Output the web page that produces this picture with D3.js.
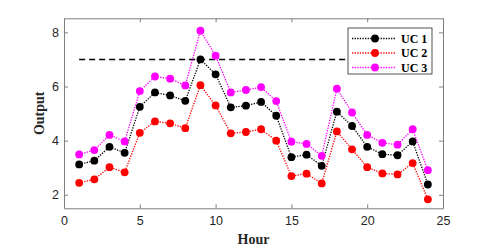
<!DOCTYPE html>
<meta charset="utf-8">
<style>
  body { margin: 0; background: #fff; }
  .tick text { font: 12.5px "Liberation Sans", Arial, sans-serif; fill: #262626; }
  .lab { font: bold 14px "Liberation Serif", "Times New Roman", serif; fill: #262626; }
  .leg text { font: bold 12px "Liberation Serif", "Times New Roman", serif; fill: #000; }
</style>
<script src="https://d3js.org/d3.v7.min.js"></script>
<svg id="chart" width="491" height="248"></svg>
<script>
  var hours = d3.range(1, 25);
  var uc1 = [3.12, 3.26, 3.77, 3.55, 5.25, 5.78, 5.67, 5.47, 7.0, 6.45, 5.23, 5.29,
             5.43, 4.92, 3.39, 3.48, 3.07, 5.07, 4.54, 3.77, 3.50, 3.46, 3.97, 2.38];
  var uc2 = [2.44, 2.57, 3.02, 2.83, 4.29, 4.71, 4.64, 4.46, 6.05, 5.30, 4.27, 4.32,
             4.42, 4.00, 2.69, 2.78, 2.42, 4.34, 3.68, 3.02, 2.79, 2.75, 3.17, 1.83];
  var uc3 = [3.49, 3.65, 4.21, 3.97, 5.83, 6.37, 6.29, 6.04, 8.06, 7.14, 5.78, 5.87,
             5.98, 5.46, 3.96, 3.88, 3.44, 5.92, 5.04, 4.21, 3.92, 3.85, 4.42, 2.91];
  var limit = 7;
  var seriesNames = ["UC 1", "UC 2", "UC 3"];
  var colors = ["#000000", "#ff0000", "#ff00ff"];
  var xTicks = [0, 5, 10, 15, 20, 25];
  var yTicks = [2, 4, 6, 8];

  var mLeft = 64, mRight = 443, mTop = 18.3, mBottom = 208.3;
  var svg = d3.select("#chart");

  var x = d3.scaleLinear().domain([0, 25]).range([mLeft, mRight]);
  var y = d3.scaleLinear().domain([1.5, 8.52]).range([mBottom, mTop]);

  // box + inward ticks on all four sides
  svg.append("g").attr("transform", "translate(0," + mBottom + ")")
    .call(d3.axisBottom(x).tickValues(xTicks).tickFormat(d3.format("d"))
      .tickSizeInner(-4).tickSizeOuter(0).tickPadding(8));
  svg.append("g").attr("transform", "translate(0," + mTop + ")")
    .call(d3.axisTop(x).tickValues(xTicks).tickSizeInner(-4).tickSizeOuter(0).tickFormat(""));
  svg.append("g").attr("transform", "translate(" + mLeft + ",0)")
    .call(d3.axisLeft(y).tickValues(yTicks).tickFormat(d3.format("d"))
      .tickSizeInner(-4).tickSizeOuter(0).tickPadding(5));
  svg.append("g").attr("transform", "translate(" + mRight + ",0)")
    .call(d3.axisRight(y).tickValues(yTicks).tickSizeInner(-4).tickSizeOuter(0).tickFormat(""));
  svg.selectAll(".domain, .tick line").attr("stroke", "#808080");

  // limit line
  svg.append("line")
    .attr("x1", x(1)).attr("x2", x(24))
    .attr("y1", y(limit)).attr("y2", y(limit))
    .attr("stroke", "#000").attr("stroke-width", 1.5).attr("stroke-dasharray", "6,4");

  var allSeries = [uc1, uc2, uc3];
  var line = d3.line().x(function(d, i) { return x(hours[i]); }).y(function(d) { return y(d); });

  allSeries.forEach(function(s, k) {
    svg.append("path").datum(s)
      .attr("d", line).attr("fill", "none")
      .attr("stroke", colors[k]).attr("stroke-width", 1.3).attr("stroke-dasharray", "1.3,1.3");
    svg.append("g").selectAll("circle").data(s).enter().append("circle")
      .attr("cx", function(d, i) { return x(hours[i]); })
      .attr("cy", function(d) { return y(d); })
      .attr("r", 3.9).attr("fill", colors[k]);
  });

  // legend
  var leg = svg.append("g").attr("class", "leg");
  leg.append("rect").attr("x", 348).attr("y", 28).attr("width", 84).attr("height", 46)
    .attr("fill", "#fff").attr("stroke", "#262626").attr("stroke-width", 0.8);
  seriesNames.forEach(function(n, k) {
    var ly = 38.5 + k * 14.5;
    leg.append("line").attr("x1", 352).attr("x2", 396).attr("y1", ly).attr("y2", ly)
      .attr("stroke", colors[k]).attr("stroke-width", 1.3).attr("stroke-dasharray", "1.3,1.3");
    leg.append("circle").attr("cx", 375).attr("cy", ly).attr("r", 3.9).attr("fill", colors[k]);
    leg.append("text").attr("x", 401).attr("y", ly + 4).text(n);
  });

  svg.append("text").attr("class", "lab").attr("text-anchor", "middle")
    .attr("x", (mLeft + mRight) / 2).attr("y", 244).text("Hour");
  svg.append("text").attr("class", "lab").attr("text-anchor", "middle")
    .attr("transform", "translate(44," + ((mTop + mBottom) / 2) + ") rotate(-90)").text("Output");
</script>
